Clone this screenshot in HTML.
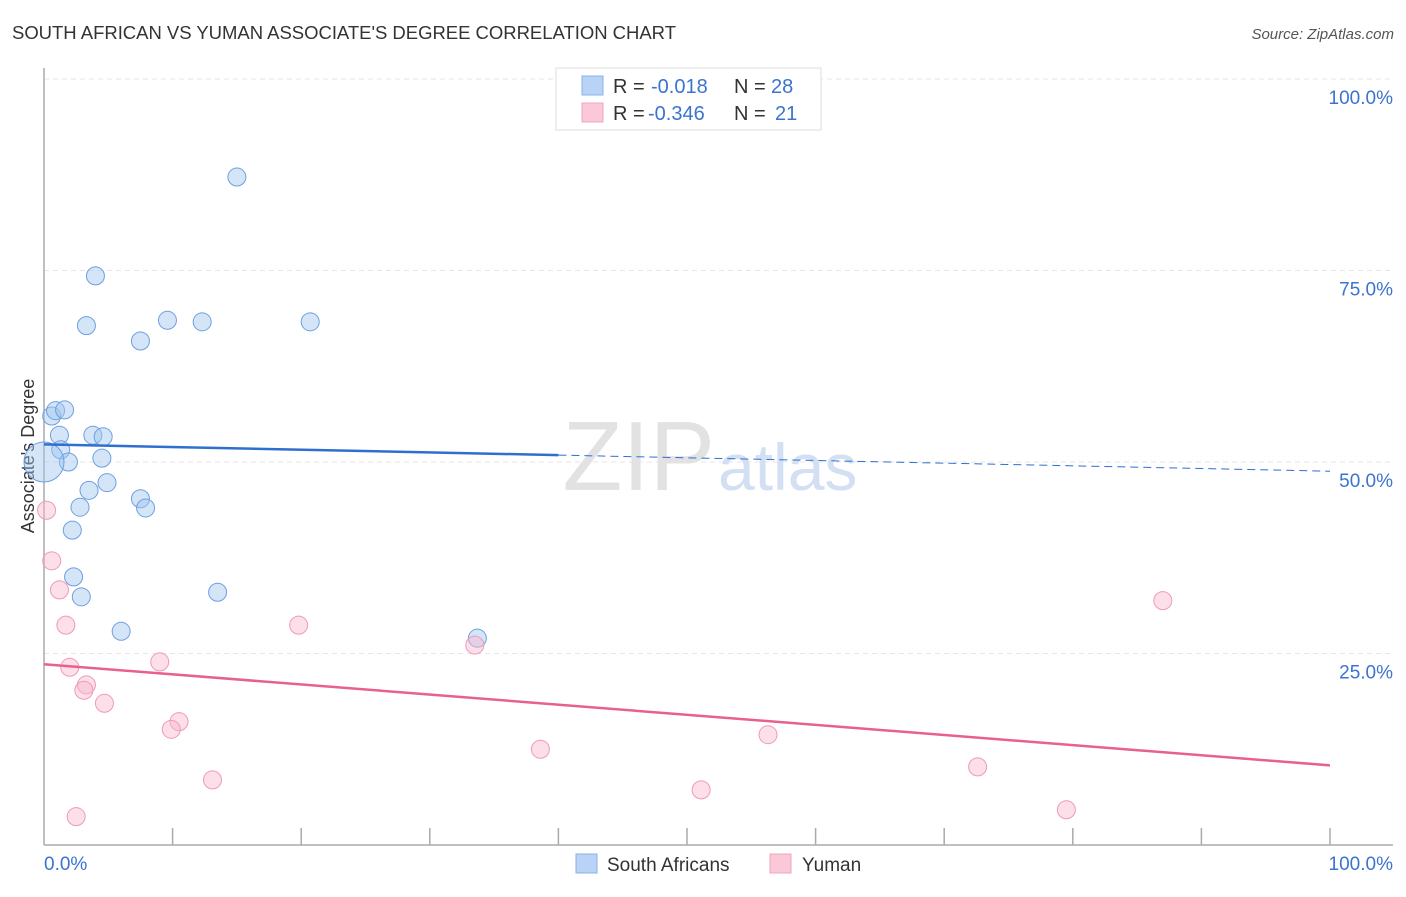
<!DOCTYPE html>
<html><head><meta charset="utf-8"><style>
body{margin:0;background:#fff;font-family:"Liberation Sans",sans-serif;}
svg text{font-family:"Liberation Sans",sans-serif;}
</style></head><body>
<svg width="1406" height="892" xmlns="http://www.w3.org/2000/svg">
<text x="12" y="39" font-size="18.5" fill="#333" textLength="664">SOUTH AFRICAN VS YUMAN ASSOCIATE'S DEGREE CORRELATION CHART</text>
<text x="1394" y="39" font-size="15" fill="#555" text-anchor="end" font-style="italic">Source: ZipAtlas.com</text>
<g id="grid"></g>
<text x="715" y="490" font-size="98" fill="#e2e2e2" text-anchor="end" font-family="Liberation Serif">ZIP</text>
<text x="718" y="490" font-size="66" fill="#d3e0f3">atlas</text>
<line x1="44" y1="68" x2="44" y2="845" stroke="#aaa" stroke-width="1.5"/>
<line x1="44" y1="845" x2="1393" y2="845" stroke="#aaa" stroke-width="1.5"/>
<text x="34" y="456" font-size="18" fill="#333" text-anchor="middle" transform="rotate(-90 34 456)">Associate's Degree</text>
<text x="44" y="870" font-size="19" fill="#3b73d0">0.0%</text>
<text x="1393" y="870" font-size="19" fill="#3b73d0" text-anchor="end">100.0%</text>
<g id="marks"></g>
<g>
<rect x="556" y="68" width="265" height="62" fill="#fff" stroke="#ddd"/>
<rect x="582" y="76" width="21" height="19" fill="#b8d3f5" stroke="#8ab2e8"/>
<rect x="582" y="103" width="21" height="19" fill="#fbc8d7" stroke="#f2a5bd"/>
<text x="613" y="93" font-size="20" fill="#333">R = <tspan x="651" fill="#3b73d0">-0.018</tspan><tspan x="734">N = </tspan><tspan x="771" fill="#3b73d0">28</tspan></text>
<text x="613" y="120" font-size="20" fill="#333">R = <tspan x="648" fill="#3b73d0">-0.346</tspan><tspan x="734">N = </tspan><tspan x="775" fill="#3b73d0">21</tspan></text>
</g>
<g>
<rect x="576" y="854" width="21" height="19" fill="#b8d3f5" stroke="#8ab2e8"/>
<text x="607" y="871" font-size="19" fill="#333">South Africans</text>
<rect x="770" y="854" width="21" height="19" fill="#fbc8d7" stroke="#f2a5bd"/>
<text x="802" y="871" font-size="19" fill="#333">Yuman</text>
</g>
</svg>
<script>
const blueX=[15.0,4.0,3.3,7.5,9.6,12.3,20.7,0.6,0.9,1.6,1.2,1.3,3.8,4.6,1.9,4.5,0,4.9,3.5,7.5,7.9,2.8,2.2,2.3,2.9,13.5,6.0,33.7];
const blueY=[87.2,74.3,67.8,65.8,68.5,68.3,68.3,56.0,56.7,56.8,53.5,51.6,53.5,53.3,50.0,50.5,50.0,47.3,46.3,45.2,44.0,44.1,41.1,35.0,32.4,33.0,27.9,27.0];
const pinkX=[0.2,0.6,1.2,1.7,2.0,3.3,3.1,4.7,9.0,10.5,9.9,13.1,2.5,19.8,33.5,38.6,51.1,56.3,72.6,79.5,87.0];
const pinkY=[43.7,37.1,33.3,28.7,23.2,20.9,20.2,18.5,23.9,16.1,15.1,8.5,3.7,28.7,26.1,12.5,7.2,14.4,10.2,4.6,31.9];
const blueTrend=[52.3,48.8];
const pinkTrend=[23.6,10.4];
const yTicks=[25,50,75,100];
const yTickLabels=["25.0%","50.0%","75.0%","100.0%"];
const xTicks=[10,20,30,40,50,60,70,80,90,100];
const NS="http://www.w3.org/2000/svg";
const sx=v=>44+v*12.86, sy=v=>845-v*7.66;
function mk(t,a,p){const e=document.createElementNS(NS,t);for(const k in a)e.setAttribute(k,a[k]);p.appendChild(e);return e;}
const g=document.getElementById('grid'), m=document.getElementById('marks');
yTicks.forEach((v,i)=>{
 const l=mk('line',{x1:44,x2:1393,y1:sy(v),y2:sy(v),stroke:'#e6e6e6','stroke-dasharray':'5,4'},g);
 
 
 const t=mk('text',{x:1393,y:sy(v)+25,'font-size':19,fill:'#3b73d0','text-anchor':'end'},g);
 t.textContent=yTickLabels[i];
 
 
});
xTicks.forEach(v=>{
 const l=mk('line',{x1:sx(v),x2:sx(v),y1:828,y2:845,stroke:'#aaa','stroke-width':1.5},g);
 
 
});
blueX.forEach((x,i)=>{
 const r=(x===0)?20:9;
 const c=mk('circle',{cx:sx(x),cy:sy(blueY[i]),r:r,fill:'rgba(160,197,240,0.45)',stroke:'#6e9fe0','stroke-width':1},m);
 
 
});
pinkX.forEach((x,i)=>{
 const c=mk('circle',{cx:sx(x),cy:sy(pinkY[i]),r:9,fill:'rgba(248,185,205,0.45)',stroke:'#f09ab5','stroke-width':1},m);
 
 
});
const bAt=x=>blueTrend[0]+(blueTrend[1]-blueTrend[0])*x/100;
let l1=mk('line',{x1:sx(0),y1:sy(bAt(0)),x2:sx(40),y2:sy(bAt(40)),stroke:'#2f6fd0','stroke-width':2.5},m);


let l2=mk('line',{x1:sx(40),y1:sy(bAt(40)),x2:sx(100),y2:sy(bAt(100)),stroke:'#2f6fd0','stroke-width':1,'stroke-dasharray':'8,5'},m);


let l3=mk('line',{x1:sx(0),y1:sy(pinkTrend[0]),x2:sx(100),y2:sy(pinkTrend[1]),stroke:'#e8608e','stroke-width':2.5},m);


</script>
</body></html>
